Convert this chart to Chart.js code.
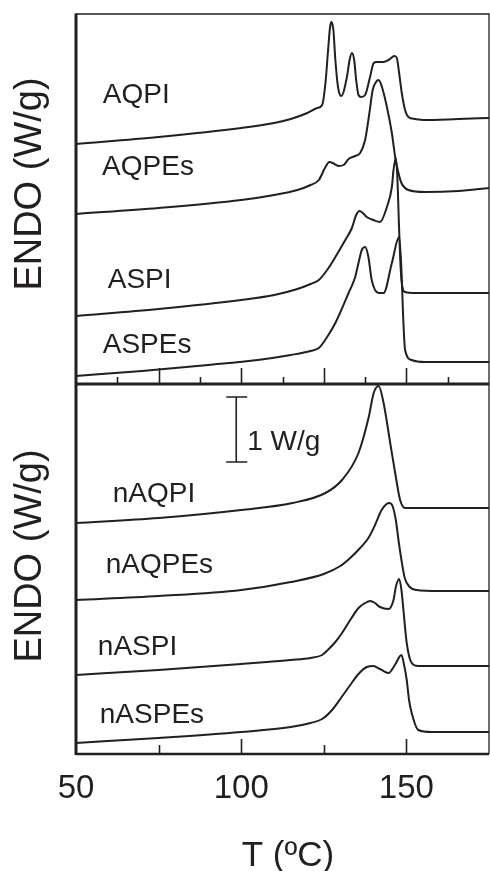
<!DOCTYPE html>
<html>
<head>
<meta charset="utf-8">
<script src="https://cdn.jsdelivr.net/npm/chart.js@4.4.1/dist/chart.umd.min.js"></script>
<style>
 body { margin: 0; background: #fff; }
 canvas { display: block; }
</style>
</head>
<body>
<canvas id="dscChart" width="490" height="871"></canvas>
<script>
// DSC traces, [T (ºC), heat flow in offset units]; 6.5 units = 1 W/g
// top panel sits on 37..74, bottom panel on 0..37
var aqpi = [[50, 61.0], [75, 61.7], [100, 62.6], [110, 63.1], [115, 63.5], [120, 64.1], [123, 64.6],
 [124.5, 64.9], [125.5, 67.1], [126.3, 70.4], [126.9, 72.7], [127.3, 73.2], [127.9, 72.4], [128.5, 69.4],
 [129.3, 66.7], [130.3, 65.8], [132.0, 67.7], [132.8, 69.4], [133.5, 70.1], [134.2, 69.4], [134.8, 67.4],
 [135.5, 65.9], [136.3, 65.7], [137.5, 65.9], [139.0, 67.7], [140.1, 69.1], [141.1, 69.2], [143.1, 69.2],
 [144.6, 69.4], [146.4, 69.8], [147.1, 69.6], [147.8, 68.1], [148.6, 66.1], [149.6, 64.4], [150.6, 63.7],
 [152.6, 63.5], [155.3, 63.4], [165.7, 63.5], [175, 63.6]];

var aqpes = [[50, 54.0], [75, 54.6], [100, 55.4], [110, 55.9], [117, 56.4], [121, 56.9], [123.5, 57.4],
 [125.5, 58.7], [126.7, 59.2], [127.7, 59.1], [129.5, 58.8], [131.0, 58.9], [132.5, 59.5], [134.5, 59.8],
 [136.0, 60.1], [137.5, 61.4], [138.8, 64.1], [139.8, 66.4], [140.8, 67.2], [141.6, 67.4], [142.6, 66.7],
 [144.1, 64.7], [145.6, 62.1], [146.6, 59.7], [147.6, 58.1], [148.5, 57.1], [150.6, 56.4], [155.6, 56.2],
 [165.7, 56.3], [175, 56.6]];

var aspi = [[50, 43.8], [75, 44.5], [100, 45.4], [110, 45.9], [117, 46.5], [121, 47.0], [123.5, 47.4],
 [126, 48.4], [128.5, 49.7], [131.5, 51.4], [133.5, 52.6], [134.8, 53.9], [135.8, 54.3], [136.8, 54.1],
 [138, 53.7], [140, 53.4], [142, 53.2], [144.1, 54.7], [145.6, 56.7], [146.1, 58.4], [146.8, 59.6],
 [147.3, 57.4], [147.6, 54.4], [148.1, 49.7], [148.6, 47.1], [149.6, 46.2], [152.6, 46.1], [175, 46.1]];

var aspes = [[50, 37.8], [70, 38.3], [90, 38.9], [105, 39.4], [115, 39.9], [121, 40.3], [123.5, 40.6],
 [126, 41.7], [128.5, 43.1], [132.5, 46.1], [134.5, 47.7], [135.5, 49.1], [136.5, 50.4], [137.5, 50.7],
 [138.5, 49.7], [139.5, 47.4], [141.6, 46.1], [143.1, 46.1], [145.6, 49.1], [147.8, 51.7], [148.4, 49.1],
 [149.1, 43.1], [149.6, 40.4], [151.6, 39.4], [155.6, 39.2], [175, 39.2]];

var naqpi = [[50, 23.1], [75, 23.6], [100, 24.4], [115.5, 25.1], [125.5, 26.1], [130.5, 27.4], [135.5, 30.1],
 [138.6, 33.7], [140.1, 36.1], [141.6, 36.8], [143.1, 35.1], [145.1, 31.1], [146.6, 28.1], [148.1, 25.4],
 [149.6, 24.6], [160, 24.6], [175, 24.6]];

var naqpes = [[50, 15.4], [75, 15.8], [100, 16.4], [115, 17.2], [125, 18.0], [130, 18.8], [133, 19.6],
 [136, 20.6], [138.5, 21.6], [140.5, 22.9], [142.5, 24.4], [144, 25.0], [144.8, 25.1], [145.8, 24.8],
 [146.8, 23.4], [147.6, 21.4], [148.5, 19.4], [149.5, 17.6], [151, 16.7], [153, 16.4], [160, 16.3], [175, 16.3]];

var naspi = [[50, 7.9], [75, 8.4], [100, 9.0], [115, 9.4], [121, 9.6], [124.5, 9.9], [126.5, 10.5],
 [128.5, 11.2], [130.5, 12.1], [133, 13.4], [135.5, 14.6], [137.5, 15.1], [139.1, 15.3], [140.5, 15.1],
 [142, 14.7], [144.6, 14.5], [146.1, 15.4], [146.8, 16.7], [147.8, 17.5], [148.5, 16.4], [149.1, 14.4],
 [150.1, 11.1], [151.6, 9.1], [153.5, 8.8], [175, 8.8]];

var naspes = [[50, 1.1], [75, 1.6], [100, 2.2], [115, 2.7], [121, 3.1], [124.5, 3.5], [127.5, 4.4],
 [130.4, 5.7], [133, 6.9], [135.5, 8.0], [138, 8.7], [140, 8.8], [142, 8.5], [144.6, 8.1], [146.5, 8.9],
 [148.5, 9.9], [149.3, 8.9], [150.1, 7.4], [150.8, 5.4], [151.6, 4.1], [153.6, 2.4], [157.5, 2.2], [175, 2.2]];

var seriesNames = ["AQPI", "AQPEs", "ASPI", "ASPEs", "nAQPI", "nAQPEs", "nASPI", "nASPEs"];
var seriesData = [aqpi, aqpes, aspi, aspes, naqpi, naqpes, naspi, naspes];

var xTickLabels = [50, 100, 150];
var topPanelTicks = [62.5, 75, 87.5, 100, 112.5, 125, 137.5, 150, 162.5];
var bottomPanelTicks = [75, 100, 125, 150];
var scaleBar = [29.2, 35.7]; // 1 W/g

var ink = "#231f20";
var font = "'Liberation Sans', Arial, sans-serif";

// label anchors [T, value] (left edge, baseline)
var labelAnchors = [[58.1, 65.1], [57.9, 57.9], [59.6, 46.6], [58.1, 40.1],
 [61.1, 25.2], [59.0, 18.1], [56.6, 9.9], [57.2, 3.1]];

var panelPlugin = {
 id: "panelDecor",
 afterDraw: function (chart) {
  var c = chart.ctx;
  var a = chart.chartArea;
  var xs = chart.scales.x;
  var ys = chart.scales.y;
  var midY = ys.getPixelForValue(37);

  c.save();
  c.strokeStyle = ink;
  c.lineCap = "butt";

  // frame
  c.lineWidth = 1.3;
  c.beginPath();
  c.moveTo(a.left, a.top);
  c.lineTo(a.right, a.top);
  c.lineTo(a.right, a.bottom);
  c.stroke();
  c.lineWidth = 3;
  c.beginPath();
  c.moveTo(a.left, a.top - 0.6);
  c.lineTo(a.left, a.bottom + 1);
  c.stroke();
  c.lineWidth = 2.5;
  c.beginPath();
  c.moveTo(a.left, a.bottom);
  c.lineTo(a.right, a.bottom);
  c.stroke();
  c.lineWidth = 3;
  c.beginPath();
  c.moveTo(a.left, midY);
  c.lineTo(a.right, midY);
  c.stroke();

  // inward ticks
  c.lineWidth = 1.6;
  topPanelTicks.forEach(function (t) {
   var px = Math.round(xs.getPixelForValue(t)) + 0.5;
   var len = t % 25 === 0 ? 16 : 7;
   c.beginPath();
   c.moveTo(px, midY);
   c.lineTo(px, midY - len);
   c.stroke();
  });
  bottomPanelTicks.forEach(function (t) {
   var px = Math.round(xs.getPixelForValue(t)) + 0.5;
   var len = t % 50 === 0 ? 15 : 9;
   c.beginPath();
   c.moveTo(px, a.bottom);
   c.lineTo(px, a.bottom - len);
   c.stroke();
  });

  // 1 W/g bar
  var bx = xs.getPixelForValue(98.5);
  var b0 = ys.getPixelForValue(scaleBar[0]);
  var b1 = ys.getPixelForValue(scaleBar[1]);
  c.lineWidth = 1.6;
  c.beginPath();
  c.moveTo(bx, b0);
  c.lineTo(bx, b1);
  c.moveTo(bx - 10, b0);
  c.lineTo(bx + 11, b0);
  c.moveTo(bx - 10, b1);
  c.lineTo(bx + 11, b1);
  c.stroke();

  c.fillStyle = ink;
  c.textBaseline = "alphabetic";
  c.textAlign = "left";
  c.font = "28px " + font;
  seriesNames.forEach(function (name, i) {
   c.fillText(name, xs.getPixelForValue(labelAnchors[i][0]), ys.getPixelForValue(labelAnchors[i][1]));
  });
  c.fillText("1 W/g", xs.getPixelForValue(101.8), ys.getPixelForValue(30.4));

  // x tick labels and title
  c.textAlign = "center";
  c.font = "33px " + font;
  xTickLabels.forEach(function (t) {
   c.fillText(String(t), xs.getPixelForValue(t), 798);
  });
  c.font = "35px " + font;
  c.fillText("T (\u00baC)", 288, 866);

  // y titles
  c.font = "38px " + font;
  [[184], [556]].forEach(function (p) {
   c.save();
   c.translate(41, p[0]);
   c.rotate(-Math.PI / 2);
   c.fillText("ENDO (W/g)", 0, 0);
   c.restore();
  });
  c.restore();
 },
};

new Chart(document.getElementById("dscChart"), {
 type: "line",
 data: {
  datasets: seriesData.map(function (pts, i) {
   return {
    label: seriesNames[i],
    data: pts.map(function (p) {
     return { x: p[0], y: p[1] };
    }),
    borderColor: ink,
    borderWidth: 2,
    pointRadius: 0,
    fill: false,
    cubicInterpolationMode: "monotone",
   };
  }),
 },
 options: {
  responsive: false,
  animation: false,
  devicePixelRatio: 1,
  layout: { padding: { left: 76, top: 14, right: 1, bottom: 117 } },
  plugins: { legend: { display: false }, tooltip: { enabled: false } },
  scales: {
   x: { type: "linear", min: 50, max: 175, display: false },
   y: { min: 0, max: 74, display: false },
  },
 },
 plugins: [panelPlugin],
});
</script>
</body>
</html>
